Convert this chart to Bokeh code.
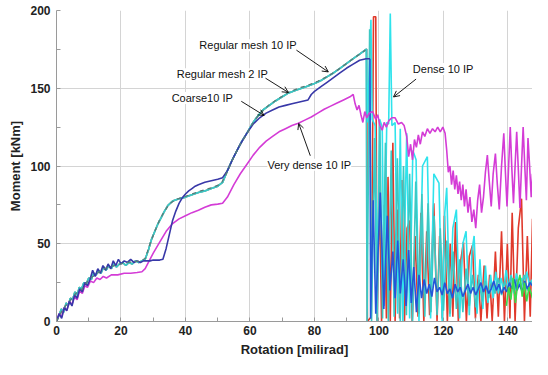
from bokeh.plotting import figure
from bokeh.models import Range1d, FixedTicker, Label, Arrow, OpenHead
from bokeh.embed import file_html
from bokeh.resources import INLINE

# ---------------- data ----------------
x_ticks = [0, 20, 40, 60, 80, 100, 120, 140]
x_minor = [10, 30, 50, 70, 90, 110, 130, 150]
y_ticks = [0, 50, 100, 150, 200]
y_minor = [25, 75, 125, 175]

# common pre-failure branch (Regular mesh 10 IP / Dense 10 IP / red run)
pre_x = [0, 0.8, 1.5, 2.2, 3.0, 3.6, 4.3, 5.0, 5.7, 6.4, 7.1, 7.8, 8.5, 9.2, 10.0,
         10.8, 11.5, 12.3, 13.0, 13.8, 14.6, 15.4, 16.2, 17.0, 17.8, 18.6, 19.5, 20.5,
         21.5, 22.5, 23.5, 24.5, 25.5, 26.5, 27.5, 28.5, 29.5, 30.5, 31.5, 32.5, 33.5,
         34.5, 36, 38, 40, 42, 44, 46, 48, 50, 51.5, 53, 54.5, 56, 57.5, 59, 60.5, 62,
         64, 66, 68, 70, 72, 74, 76, 78, 80, 82, 84, 86, 88, 90, 92, 94, 96]
pre_y = [0, 4, 8, 6, 12, 10, 15, 14, 19, 17, 22, 21, 25, 24, 28,
         27, 31, 30, 33, 31, 35, 33, 36, 34, 37, 35, 37, 38,
         36, 38, 37, 39, 38, 39, 40, 46, 53, 58, 63, 67, 71,
         74.5, 77.5, 79, 80, 81.5, 83, 84, 85.5, 87, 89.5, 97, 104, 110, 116, 121, 126.5, 131,
         136, 139, 142, 144.5, 147, 148.5, 150, 151.5, 153, 155, 157.5, 160, 163, 166, 169, 172, 175]

# Regular mesh 10 IP after failure
rm10_post_x = [96.3, 97.1, 97.7, 98.6, 99.4, 100.3, 101.1, 102.0, 102.9, 103.8, 104.7, 105.7,
               106.6, 107.6, 108.5, 109.5, 110.4, 111.4, 112.3, 113.3, 114.2, 115.2, 116.1,
               117.1, 118.0, 119, 120, 121, 122, 123, 124, 125, 126, 127, 128, 129, 130, 131,
               132, 133, 134, 135, 136, 137, 138, 139, 140, 141, 142, 143, 144, 145, 146, 147, 147.6]
rm10_post_y = [0, 188, 0, 118, 0, 125, 2, 115, 0, 110, 3, 105,
               0, 100, 4, 95, 0, 90, 5, 82, 3, 76, 6,
               68, 4, 60, 7, 52, 5, 45, 8, 40, 6, 34, 10, 30, 9, 27,
               13, 26, 15, 25, 18, 28, 17, 26, 20, 29, 19, 27, 21, 30, 20, 26, 23]

# Regular mesh 2 IP (dashed)
rm2_x = [0, 2, 4, 6, 8, 10, 12, 14, 16, 18, 20, 22, 24, 26, 27.5, 29, 30.5, 32, 33.5, 35,
         37, 40, 44, 48, 51, 53, 55, 57, 59, 61, 63, 66, 69, 72, 75, 78, 81, 84, 87, 90, 93, 95.8]
rm2_y = [0, 8, 13, 18, 21, 27, 30, 33, 35, 36, 37, 38, 38.5, 39, 40.5, 50, 58, 65.5, 71, 75.5,
         78.5, 80.5, 83.5, 86, 88.5, 96.5, 106, 114, 120.5, 128, 133.5, 139.5, 143.5, 147.5,
         150, 152, 154.5, 157.5, 161.5, 166, 170.5, 174.5]

# Dense 10 IP after failure
dense_post_x = [96.2, 96.4, 97.5, 97.9, 98.8, 99.5, 100.2, 101.0, 101.6, 102.4, 103.0, 103.5,
                104.0, 105.0, 105.8, 106.6, 107.4, 108.6, 109.5, 110.5, 111.5, 112.4, 113.5,
                115.0, 116.0, 117.0, 118.6, 119.6, 120.4, 121.0, 122.0, 122.9, 124.0, 125.0,
                126.0, 127.0, 128.0, 128.8, 129.5, 130.4, 131.3, 132.2, 133.0, 133.8, 134.6,
                135.4, 136.2, 137.0, 137.8, 138.6, 139.4, 140.2, 141.0, 141.8, 142.6, 143.4,
                144.2, 145.0, 145.8, 146.6, 147.6]
dense_post_y = [175, 128, 194, 130, 126, 20, 130, 125, 10, 128, 127, 198,
                126, 128, 5, 124, 0, 121, 2, 110, 104, 0, 100,
                106, 2, 95, 89, 0, 70, 86, 3, 60, 72, 2,
                50, 58, 4, 45, 55, 5, 40, 8, 36, 12, 30,
                15, 32, 18, 28, 20, 33, 22, 30, 18, 31, 23,
                28, 21, 32, 24, 27]

# red run after failure
red_post_x = [96.2, 96.4, 97.6, 98.3, 99.0, 99.4, 100.1, 100.8, 101.6, 102.3, 102.8, 103.5,
              104.3, 105.0, 105.7, 106.4, 107.1, 107.9, 108.7, 109.5, 110.3, 111.2, 112.1,
              113.0, 113.9, 114.8, 115.7, 117.0, 118.0, 118.8, 119.6, 120.3, 121.2, 122.1,
              122.9, 123.7, 124.6, 125.4, 126.2, 127.1, 128.0, 129.0, 129.9, 130.8, 131.6,
              132.6, 133.5, 134.3, 135.1, 136.1, 137.0, 138.0, 138.9, 139.8, 140.6, 141.3,
              142.2, 143.2, 144.2, 145.1, 146.0, 146.9, 147.6]
red_post_y = [175, 0, 3, 196, 196, 0, 87, 0, 75, 2, 93, 0,
              115, 0, 72, 2, 91, 0, 60, 65, 0, 55, 3,
              70, 0, 58, 4, 76, 0, 55, 2, 68, 0, 50,
              3, 64, 0, 40, 51, 0, 42, 49, 2, 30, 0,
              36, 2, 30, 0, 45, 3, 58, 0, 50, 2, 70,
              0, 60, 79, 0, 55, 3, 66]

# Coarse10 IP
coarse_x = [0, 0.8, 1.6, 2.4, 3.2, 4.0, 4.8, 5.6, 6.4, 7.2, 8.0, 8.8, 9.6, 10.4, 11.2, 12,
            12.8, 13.6, 14.4, 15.2, 16, 16.8, 17.6, 18.4, 19.2, 20, 21, 22, 23, 24, 25, 26,
            27, 28, 29, 30, 31, 32, 33, 34, 35, 36, 37, 38, 39, 40, 41, 42, 43, 44, 46, 48,
            50, 51.5, 53, 55, 57, 59, 61, 63, 65, 67, 69, 71, 73, 75, 77, 78, 79, 80, 82,
            84, 86, 88, 90, 92, 94, 96, 97.2]
coarse_y = [0, 5, 2, 9, 7, 13, 10, 17, 15, 21, 19, 25, 23, 27, 33, 29,
            34, 31, 36, 33, 37, 34, 39, 36, 40, 37, 39, 38, 40, 38, 39, 38,
            39, 39, 39, 39.5, 39.5, 39.5, 40, 47, 56, 65, 71, 76, 79.5, 82, 84, 85.5, 87, 88, 89.5, 90.5,
            91.5, 92.5, 97, 106, 114, 121, 127, 131, 134, 136, 138, 139, 140, 141, 142, 142.5, 146, 148, 151,
            154, 157, 160, 163, 165.5, 168, 169, 169]
coarse_post_x = [97.2, 97.4, 98.2, 99.0, 100.4, 101.5, 102.6, 103.4, 104.3, 105.0, 105.8, 106.6,
                 107.5, 108.4, 109.2, 110.0, 110.8, 111.6, 112.4, 113.2, 114.0, 114.8, 115.6,
                 116.4, 117.2, 118.0, 118.8, 119.6, 120.4, 121.2, 122.0, 122.8, 123.6, 124.4,
                 125.2, 126.0, 126.8, 127.6, 128.4, 129.2, 130.0, 130.8, 131.6, 132.4, 133.2,
                 134.0, 134.8, 135.6, 136.4, 137.2, 138.0, 138.8, 139.6, 140.4, 141.2, 142.0,
                 142.8, 143.6, 144.4, 145.2, 146.0, 146.8, 147.6]
coarse_post_y = [169, 2, 78, 5, 83, 8, 68, 20, 45, 15, 52, 18,
                 40, 10, 46, 12, 35, 6, 30, 15, 27, 18, 24,
                 16, 28, 19, 22, 17, 25, 18, 21, 15, 24, 19,
                 22, 16, 20, 24, 18, 22, 17, 21, 25, 19, 23,
                 18, 21, 26, 20, 24, 18, 22, 19, 25, 21, 27,
                 20, 24, 19, 26, 21, 25, 23]

# green run (end of record)
green_x = [139.5, 140.2, 140.9, 141.6, 142.3, 143.0, 143.7, 144.4, 145.1, 145.8, 146.5, 147.2, 147.6]
green_y = [10, 22, 14, 28, 12, 24, 30, 16, 25, 13, 22, 18, 15]

# Very dense 10 IP
vd_x = [0, 0.8, 1.6, 2.4, 3.2, 4.0, 4.8, 5.6, 6.4, 7.2,
        8.0, 8.8, 9.6, 10.5, 11.5, 12.5, 13.5, 14.5, 15.5, 17,
        19, 21, 23, 25, 26.5, 27.5, 28.5, 30, 32, 34,
        36, 38, 40, 42, 44, 46, 48, 50, 51.5, 53,
        55, 57, 59, 61, 63, 65, 67, 69, 71, 73,
        75, 77, 79, 81, 83, 85, 87, 89, 91, 92,
        92.6, 93.2, 93.8, 94.4, 95.0, 95.6, 96.2, 97, 98, 99,
        99.6, 100.3, 101, 101.6, 102.3, 103, 104, 105, 106, 107,
        107.8, 108.6, 109.2, 109.8, 110.4, 111, 111.6, 112.2, 112.8, 113.5,
        114.2, 115, 115.8, 116.6, 117.4, 118.2, 119, 119.8, 120.5, 121.0,
        121.5, 122.0, 122.5, 123.0, 123.5, 124.0, 124.5, 125.0, 125.5, 126.0,
        126.5, 127.0, 127.6, 128.2, 128.8, 129.4, 130.0, 130.6, 131.2, 131.8,
        132.4, 133.0, 133.6, 134.2, 134.8, 135.4, 136.1, 136.7, 137.3, 138.0,
        138.7, 139.2, 139.7, 140.2, 140.7, 141.2, 141.7, 142.2, 142.7, 143.2,
        143.7, 144.2, 144.7, 145.2, 145.7, 146.2, 146.7, 147.2, 147.6]
vd_y = [0, 5, 3, 9, 7, 13, 11, 16, 14, 20,
        18, 23, 22, 26, 25, 28, 27, 29, 28, 30,
        30, 31, 31, 31.5, 32, 34, 38, 44, 51, 58,
        63, 66, 68, 70, 71.5, 73.5, 75, 75.5, 76, 80,
        88, 95, 101, 107, 112, 116, 119, 122, 124, 126,
        127.5, 129.5, 131.5, 134, 136.5, 138.5, 140.5, 142.5, 144.5, 146,
        140, 136, 139, 133, 128, 135, 131, 134, 135, 130,
        133, 126, 123, 128, 125, 129, 131, 131, 127, 128,
        126, 119, 106, 114, 104, 117, 112, 120, 114, 122,
        119, 124, 121, 124, 122, 125, 122, 125, 121, 110,
        96, 100, 88, 97, 85, 94, 82, 90, 78, 88,
        74, 85, 70, 80, 64, 72, 60, 78, 88, 70,
        80, 96, 107, 90, 74, 95, 108, 88, 72, 100,
        121, 96, 74, 100, 125, 98, 76, 100, 122, 98,
        73, 100, 125, 100, 78, 118, 100, 80, 95]

# ---------------- figure ----------------
FONT = "Liberation Sans"
p = figure(width=532, height=359, output_backend="svg", toolbar_location=None,
           x_range=Range1d(0, 147.6), y_range=Range1d(0, 200),
           min_border_left=56, min_border_right=0, min_border_top=10, min_border_bottom=34)
p.outline_line_color = None
p.background_fill_color = "white"

p.xaxis.ticker = FixedTicker(ticks=x_ticks, minor_ticks=x_minor)
p.yaxis.ticker = FixedTicker(ticks=y_ticks, minor_ticks=y_minor)
for ax in (p.xaxis, p.yaxis):
    ax.axis_line_color = "#9a9a9a"
    ax.major_tick_line_color = "#9a9a9a"
    ax.minor_tick_line_color = "#9a9a9a"
    ax.major_tick_in = 4
    ax.major_tick_out = 0
    ax.minor_tick_in = 4
    ax.minor_tick_out = 0
    ax.major_label_text_font = FONT
    ax.major_label_text_font_style = "bold"
    ax.major_label_text_font_size = "12px"
    ax.major_label_text_color = "#222222"
    ax.axis_label_text_font = FONT
    ax.axis_label_text_font_style = "bold"
    ax.axis_label_text_font_size = "13px"
    ax.axis_label_text_color = "#222222"
p.xaxis.axis_label = "Rotation [milirad]"
p.yaxis.axis_label = "Moment [kNm]"
p.xaxis.major_label_standoff = 4
p.yaxis.major_label_standoff = 6
p.xaxis.axis_label_standoff = 4
p.yaxis.axis_label_standoff = 4
p.grid.grid_line_color = "#d4d4d4"
p.grid.grid_line_width = 1

LW = 1.6
# red run
p.line(pre_x + red_post_x, pre_y + red_post_y, line_color="#E0392B", line_width=LW)
# Dense 10 IP
p.line(pre_x + dense_post_x, pre_y + dense_post_y, line_color="#2FE3EC", line_width=LW)
# Regular mesh 10 IP
p.line(pre_x + rm10_post_x, pre_y + rm10_post_y, line_color="#3CC8C4", line_width=LW)
# Coarse 10 IP after failure
p.line(coarse_post_x, coarse_post_y, line_color="#2456D8", line_width=LW)
# green run
p.line(green_x, green_y, line_color="#3ADC4A", line_width=LW)
# Very dense 10 IP
p.line(vd_x, vd_y, line_color="#D43CD6", line_width=LW)
# Coarse 10 IP
p.line(coarse_x, coarse_y, line_color="#3838A8", line_width=LW)
# Regular mesh 2 IP
p.line(rm2_x, rm2_y, line_color="#587C78", line_width=1.3, line_dash="4 4")

# ---------------- annotations ----------------
labels = [
    ("Regular mesh 10 IP", 44.3, 177.7),
    ("Regular mesh 2 IP", 37.3, 159.0),
    ("Coarse10 IP", 35.7, 143.8),
    ("Very dense 10 IP", 65.4, 100.8),
    ("Dense 10 IP", 110.5, 162.4),
]
for txt, lx, ly in labels:
    p.add_layout(Label(x=lx, y=ly, text=txt, text_font=FONT, text_font_size="11px",
                       text_color="#111111", text_baseline="middle", text_align="left",
                       background_fill_color="white", background_fill_alpha=1.0))

arrows = [
    (74.4, 174.5, 84.3, 160.5),
    (64.8, 156.5, 71.9, 147.3),
    (57.3, 141.6, 64.4, 132.5),
    (78.7, 106.6, 75.1, 127.4),
    (111.5, 155.9, 104.5, 144.4),
]
for xs, ys, xe, ye in arrows:
    p.add_layout(Arrow(end=OpenHead(size=6, line_width=0.9, line_color="black"),
                       x_start=xs, y_start=ys, x_end=xe, y_end=ye,
                       line_width=0.9, line_color="black"))

open("out.html", "w").write(file_html(p, INLINE))
